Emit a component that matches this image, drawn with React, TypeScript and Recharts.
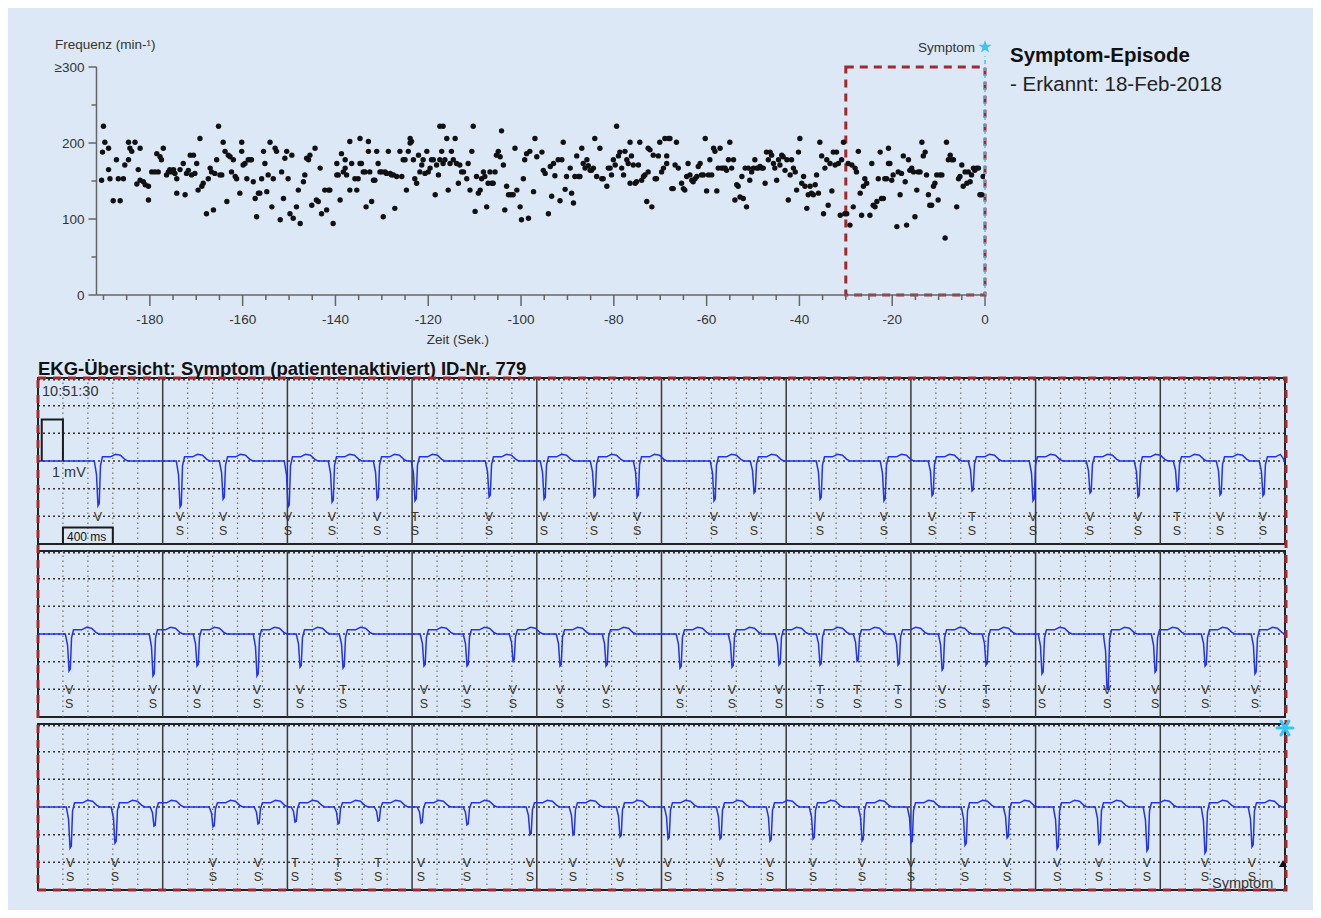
import React from 'react';
import {
  ScatterChart,
  Scatter,
  XAxis,
  YAxis,
  ReferenceArea,
  ReferenceLine,
  ComposedChart,
  Line,
} from 'recharts';

const BG = '#dce8f6';
const FONT = '"Liberation Sans", Arial, Helvetica, sans-serif';
const TXT = '#333333';
const RED = '#a3282c';
const CYAN = '#3cc3f0';
const TRACE = '#2233ee';

// ---------- Top chart: heart rate over time ----------
const rateTicks = [0, 50, 100, 150, 200, 250, 300];
const rateTickLabels: Record<number, string> = { 0: '0', 100: '100', 200: '200', 300: '≥300' };
const timeTicks = [
  -190, -185, -180, -175, -170, -165, -160, -155, -150, -145, -140, -135, -130, -125, -120,
  -115, -110, -105, -100, -95, -90, -85, -80, -75, -70, -65, -60, -55, -50, -45, -40, -35,
  -30, -25, -20, -15, -10, -5, 0,
];
const timeLabelTicks = [-180, -160, -140, -120, -100, -80, -60, -40, -20, 0];

// [seconds, beats per minute]
const heartRate: [number, number][] = [
  [-190.0, 222], [-189.7, 201], [-188.9, 193], [-190.2, 188], [-190.4, 151], [-188.9, 165],
  [-188.6, 153], [-187.9, 124], [-187.2, 178], [-186.4, 124], [-186.8, 153], [-185.7, 153],
  [-185.4, 171], [-184.6, 178], [-184.6, 201], [-184.3, 193], [-183.9, 189], [-183.2, 201],
  [-182.1, 193], [-182.5, 165], [-182.8, 146], [-182.1, 151], [-181.4, 149], [-181.0, 145],
  [-180.3, 143], [-180.3, 125], [-179.6, 162], [-178.9, 162], [-178.2, 162], [-178.5, 186],
  [-177.8, 182], [-177.5, 178], [-177.1, 193], [-176.4, 158], [-176.0, 162], [-175.7, 165],
  [-175.3, 162], [-174.9, 165], [-174.6, 160], [-174.2, 153], [-174.2, 134], [-173.5, 165],
  [-172.8, 173], [-172.4, 132], [-172.1, 160], [-171.7, 164], [-171.3, 184], [-170.6, 184],
  [-171.0, 158], [-170.3, 160], [-169.9, 173], [-169.2, 206], [-169.6, 138], [-168.8, 143],
  [-168.5, 147], [-167.8, 107], [-167.4, 153], [-167.0, 167], [-166.7, 162], [-166.3, 112],
  [-166.0, 160], [-165.6, 178], [-165.2, 222], [-164.9, 158], [-164.5, 158], [-164.2, 201],
  [-163.8, 189], [-163.4, 123], [-163.1, 184], [-162.7, 182], [-162.4, 162], [-162.0, 178],
  [-161.6, 156], [-161.3, 153], [-160.6, 134], [-160.2, 201], [-160.2, 189], [-159.9, 171],
  [-159.5, 173], [-159.1, 153], [-158.8, 178], [-158.4, 178], [-158.1, 178], [-157.7, 149],
  [-157.3, 127], [-157.0, 103], [-156.6, 134], [-156.3, 134], [-155.9, 153], [-155.5, 189],
  [-155.2, 173], [-154.8, 136], [-154.5, 158], [-154.1, 201], [-153.7, 116], [-153.4, 153],
  [-153.0, 193], [-152.7, 189], [-151.9, 99], [-151.6, 162], [-151.2, 127], [-150.9, 180],
  [-150.5, 189], [-150.2, 153], [-149.8, 107], [-149.4, 184], [-149.1, 101], [-148.4, 116],
  [-148.0, 138], [-147.6, 94], [-146.9, 149], [-146.6, 158], [-146.2, 180], [-145.8, 178],
  [-145.5, 184], [-145.1, 118], [-144.4, 193], [-144.1, 125], [-143.7, 123], [-143.3, 167],
  [-143.0, 107], [-142.3, 138], [-141.9, 112], [-141.5, 138], [-141.2, 138], [-140.5, 94],
  [-139.7, 173], [-139.7, 158], [-139.4, 158], [-139.0, 125], [-138.7, 186], [-138.3, 162],
  [-137.9, 178], [-137.9, 167], [-137.6, 158], [-136.9, 138], [-136.9, 202], [-136.5, 173],
  [-135.8, 153], [-135.4, 138], [-135.1, 153], [-134.7, 206], [-134.7, 173], [-134.4, 173],
  [-134.0, 162], [-133.6, 162], [-133.4, 116], [-132.9, 202], [-132.9, 189], [-132.6, 162],
  [-132.2, 123], [-131.8, 151], [-131.5, 151], [-131.1, 189], [-130.8, 173], [-130.4, 162],
  [-130.0, 162], [-129.7, 103], [-129.3, 162], [-129.0, 160], [-128.6, 189], [-128.2, 160],
  [-127.9, 158], [-127.5, 158], [-127.2, 114], [-126.8, 156], [-126.1, 189], [-125.7, 156],
  [-125.4, 178], [-125.0, 178], [-124.7, 138], [-124.3, 189], [-123.9, 200], [-123.9, 206],
  [-123.6, 202], [-123.2, 178], [-122.9, 153], [-122.5, 147], [-122.1, 184], [-121.8, 162],
  [-121.4, 171], [-121.1, 178], [-120.7, 160], [-120.3, 189], [-120.0, 162], [-119.6, 167],
  [-119.3, 178], [-118.9, 178], [-118.5, 132], [-118.2, 171], [-117.8, 158], [-117.5, 178],
  [-117.5, 222], [-117.1, 189], [-116.8, 222], [-116.8, 173], [-116.4, 178], [-116.0, 206],
  [-115.7, 138], [-115.3, 173], [-115.0, 189], [-114.6, 178], [-114.2, 206], [-113.9, 173],
  [-113.5, 147], [-113.2, 171], [-112.8, 162], [-112.4, 162], [-111.7, 153], [-111.4, 173],
  [-111.0, 138], [-110.6, 189], [-110.3, 222], [-109.9, 110], [-109.6, 156], [-109.2, 134],
  [-108.8, 138], [-108.5, 153], [-108.1, 162], [-107.8, 156], [-107.4, 116], [-107.1, 147],
  [-106.7, 162], [-106.3, 147], [-106.0, 147], [-105.6, 162], [-105.3, 184], [-104.9, 189],
  [-104.5, 182], [-104.2, 216], [-103.8, 171], [-103.5, 112], [-103.1, 143], [-102.7, 132],
  [-102.2, 132], [-101.7, 132], [-101.3, 193], [-100.9, 138], [-100.2, 116], [-99.9, 99],
  [-99.5, 153], [-99.2, 178], [-98.8, 186], [-98.4, 101], [-98.1, 189], [-97.3, 136],
  [-97.0, 206], [-96.6, 182],
  [-95.5, 188], [-95.2, 164], [-94.8, 160], [-94.1, 107], [-93.7, 169], [-93.4, 130],
  [-93.0, 173], [-92.7, 157], [-92.0, 178], [-91.6, 124], [-91.2, 178], [-90.9, 201],
  [-90.5, 139], [-90.2, 156], [-89.4, 167], [-89.1, 134], [-88.7, 121], [-88.4, 156],
  [-88.0, 183], [-87.6, 156], [-87.3, 156], [-86.9, 193], [-86.6, 173], [-86.2, 167],
  [-85.8, 178], [-85.5, 170], [-85.1, 164], [-84.8, 164], [-84.4, 167], [-84.1, 206],
  [-83.7, 156], [-83.0, 193], [-82.6, 153], [-82.3, 153], [-81.5, 143], [-81.2, 167],
  [-80.8, 167], [-80.5, 158], [-80.1, 178], [-79.7, 171], [-79.4, 222], [-79.0, 183],
  [-78.7, 188], [-78.3, 167], [-77.9, 158], [-77.6, 189], [-77.2, 178], [-76.9, 173],
  [-76.5, 201], [-76.5, 147], [-76.2, 183], [-75.8, 171], [-75.4, 147], [-75.1, 149],
  [-74.7, 171], [-74.4, 201], [-74.0, 151], [-73.6, 156], [-73.3, 158], [-72.9, 123],
  [-72.6, 162], [-72.6, 193], [-72.2, 191], [-71.8, 116], [-71.5, 184], [-71.1, 153],
  [-70.8, 153], [-70.4, 183], [-70.1, 201], [-69.7, 162], [-69.3, 167], [-69.0, 206],
  [-68.6, 183], [-68.6, 173], [-68.2, 206], [-67.9, 206], [-67.5, 140], [-67.2, 140],
  [-66.8, 171], [-66.5, 201], [-66.1, 167], [-65.4, 147], [-65.0, 140], [-64.7, 138],
  [-64.3, 156], [-64.0, 173], [-63.6, 158], [-63.2, 151], [-62.9, 149], [-62.5, 153],
  [-62.1, 156], [-61.8, 169], [-61.4, 173], [-61.1, 158], [-60.7, 158], [-60.3, 206],
  [-60.0, 137], [-59.6, 158], [-59.3, 178], [-58.9, 158], [-58.5, 193], [-58.2, 189],
  [-57.8, 137], [-57.5, 167], [-57.1, 193], [-56.8, 167], [-56.4, 167], [-56.0, 167],
  [-55.7, 164], [-55.3, 178], [-55.0, 201], [-54.6, 167], [-54.2, 178], [-53.9, 125],
  [-53.5, 145], [-53.2, 143], [-52.8, 129], [-52.4, 156], [-52.1, 127], [-51.7, 167],
  [-51.4, 116], [-51.0, 167], [-50.7, 151], [-50.3, 162], [-49.9, 167], [-49.6, 178],
  [-49.2, 167], [-48.9, 167], [-48.5, 169], [-48.1, 167], [-47.8, 167], [-47.4, 147],
  [-47.1, 188], [-46.7, 178], [-46.3, 188], [-46.0, 184], [-45.6, 173], [-45.3, 167],
  [-44.9, 151], [-44.5, 178], [-44.2, 171], [-43.8, 184], [-43.5, 182], [-43.1, 164],
  [-42.7, 178], [-42.4, 125], [-42.0, 158], [-41.7, 178], [-41.3, 167], [-40.9, 162],
  [-40.6, 138], [-40.2, 188], [-39.9, 206], [-39.5, 147], [-39.1, 156], [-38.8, 143],
  [-38.4, 114], [-38.1, 132], [-37.7, 143], [-37.4, 134], [-37.0, 132], [-36.6, 145],
  [-36.3, 158], [-35.9, 134], [-35.6, 201], [-35.2, 183], [-34.8, 107], [-34.5, 167],
  [-34.1, 178], [-33.8, 118], [-33.4, 173], [-33.0, 137], [-32.7, 188], [-32.3, 171],
  [-32.0, 188], [-31.6, 173], [-31.2, 105], [-30.9, 178], [-30.5, 201], [-30.2, 107],
  [-29.8, 107], [-29.5, 173], [-29.1, 92], [-28.7, 171], [-28.4, 116], [-28.0, 167],
  [-27.7, 162], [-27.3, 189], [-26.9, 134], [-26.6, 105], [-26.2, 143], [-25.9, 153],
  [-25.5, 147], [-24.8, 105], [-24.4, 173], [-24.1, 118], [-23.7, 116], [-23.3, 123],
  [-23.0, 153], [-22.6, 188], [-22.3, 127], [-21.9, 127], [-21.6, 153], [-21.2, 153],
  [-20.8, 193], [-20.8, 173], [-20.5, 173], [-20.1, 151], [-19.8, 158], [-19.0, 90],
  [-18.7, 162], [-18.3, 132], [-18.0, 160], [-17.6, 183], [-17.2, 149], [-16.9, 92],
  [-16.5, 178], [-16.2, 164], [-15.8, 167], [-15.4, 162], [-15.1, 103], [-14.7, 138],
  [-14.4, 162], [-14.0, 162], [-13.6, 201], [-13.3, 183], [-12.9, 188], [-12.6, 158],
  [-12.2, 132], [-11.9, 118], [-11.5, 118], [-11.1, 143], [-10.8, 147], [-10.4, 158],
  [-10.1, 125], [-9.7, 158], [-9.3, 158], [-8.6, 75], [-8.3, 201], [-7.9, 178],
  [-7.5, 184], [-7.2, 178], [-6.8, 178], [-6.1, 116], [-5.7, 153], [-5.4, 156],
  [-5.0, 171], [-4.7, 143], [-4.3, 162], [-3.9, 147], [-3.6, 162], [-3.2, 149],
  [-2.9, 158], [-2.5, 167], [-2.2, 164], [-1.8, 167], [-1.4, 167], [-1.1, 132],
  [-0.7, 132], [-0.4, 156],
];

// ---------- EKG strips (10 s each) ----------
// beat times (s), QRS depth (mV), annotation marks
const strip1Beats = [0.481, 1.139, 1.484, 2.005, 2.358, 2.719, 3.023, 3.617, 4.058, 4.459, 4.804, 5.421, 5.742, 6.271, 6.784, 7.169, 7.49, 7.979, 8.436, 8.821, 9.134, 9.479, 9.823];
const strip1Depths = [1.08, 1.11, 0.92, 1.11, 0.99, 0.92, 0.96, 0.87, 0.92, 0.87, 0.87, 0.96, 0.77, 0.92, 0.96, 0.84, 0.72, 0.96, 0.77, 0.87, 0.72, 0.82, 0.84];
const strip1Marks = ['V', 'VS', 'VS', 'VS', 'VS', 'VS', 'TS', 'VS', 'VS', 'VS', 'VS', 'VS', 'VS', 'VS', 'VS', 'VS', 'TS', 'VS', 'VS', 'VS', 'TS', 'VS', 'VS'];

const strip2Beats = [0.249, 0.922, 1.275, 1.756, 2.101, 2.446, 3.095, 3.44, 3.809, 4.186, 4.555, 5.148, 5.565, 5.942, 6.271, 6.568, 6.897, 7.25, 7.602, 8.051, 8.573, 8.958, 9.359, 9.759];
const strip2Depths = [0.89, 1.01, 0.77, 1.01, 0.8, 0.82, 0.77, 0.77, 0.65, 0.77, 0.77, 0.82, 0.8, 0.75, 0.75, 0.65, 0.75, 0.87, 0.75, 0.96, 1.35, 0.92, 0.77, 0.96];
const strip2Marks = ['VS', 'VS', 'VS', 'VS', 'VS', 'TS', 'VS', 'VS', 'VS', 'VS', 'VS', 'VS', 'VS', 'VS', 'TS', 'TS', 'TS', 'VS', 'TS', 'VS', 'VS', 'VS', 'VS', 'VS'];

const strip3Beats = [0.257, 0.617, 0.93, 1.403, 1.764, 2.061, 2.406, 2.727, 3.071, 3.44, 3.945, 4.29, 4.667, 5.052, 5.469, 5.87, 6.215, 6.608, 7.001, 7.434, 7.771, 8.172, 8.508, 8.893, 9.358, 9.735];
const strip3Depths = [0.99, 0.87, 0.46, 0.48, 0.41, 0.36, 0.41, 0.34, 0.39, 0.43, 0.67, 0.67, 0.72, 0.77, 0.77, 0.82, 0.77, 0.82, 0.87, 0.92, 0.75, 1.01, 0.89, 1.06, 1.11, 0.96];
const strip3Marks = ['VS', 'VS', '', 'VS', 'VS', 'TS', 'TS', 'TS', 'VS', 'VS', 'VS', 'VS', 'VS', 'VS', 'VS', 'VS', 'VS', 'VS', 'VS', 'VS', 'VS', 'VS', 'VS', 'VS', 'VS', 'VS'];

// beat waveform template: time offset (s), fraction of QRS depth, T-wave level (mV)
const shapeT = [-0.03, -0.012, 0, 0.01, 0.02, 0.036, 0.1, 0.14, 0.18, 0.215, 0.24];
const shapeDepth = [0, 0.3, 1, 0.95, 0.1, 0, 0, 0, 0, 0, 0];
const shapeWave = [0, 0, 0, 0, 0, 0.1, 0.1, 0.16, 0.14, 0.04, 0];

// 1 mV calibration pulse and 400 ms marker (strip 1)
const calPulse = [
  { t: 0.03, v: 0 }, { t: 0.03, v: 1 }, { t: 0.2, v: 1 }, { t: 0.2, v: 0 },
];
const msMarker = [
  { t: 0.2, v: -2 }, { t: 0.2, v: -1.6 }, { t: 0.6, v: -1.6 }, { t: 0.6, v: -2 },
];

const gridT = Array.from({ length: 49 }, (_, i) => (i + 1) * 0.2).filter(
  (t) => Math.abs(t - Math.round(t)) > 0.01
);
const gridV = [-4 / 3, -2 / 3, 0, 2 / 3, 4 / 3, 1.96];
const sectionT = [1, 2, 3, 4, 5, 6, 7, 8, 9];
const LABEL_LEVEL = -4 / 3;

function buildTrace(times: number[], depths: number[]) {
  const pts: { t: number; v: number }[] = [{ t: 0, v: 0 }];
  times.forEach((bt, i) => {
    const limit = i + 1 < times.length ? times[i + 1] + shapeT[0] : 10;
    shapeT.forEach((dt, k) => {
      const t = bt + dt;
      if (t < 0 || t > 10 || t >= limit) return;
      if (t < pts[pts.length - 1].t) return;
      pts.push({ t, v: -depths[i] * shapeDepth[k] + shapeWave[k] });
    });
  });
  pts.push({ t: 10, v: 0 });
  return pts;
}

const LabelMark = (p: any) => {
  const { cx, cy, payload } = p;
  const m: string = payload.mark || '';
  return (
    <g>
      {m[0] ? (
        <text x={cx} y={cy + 4.5} textAnchor="middle" fontSize={12.5} fontFamily={FONT} fill="#3d3322">
          {m[0]}
        </text>
      ) : null}
      {m[1] ? (
        <text x={cx} y={cy + 19} textAnchor="middle" fontSize={12.5} fontFamily={FONT} fill="#3d3322">
          {m[1]}
        </text>
      ) : null}
    </g>
  );
};

function EkgStrip(props: {
  times: number[];
  depths: number[];
  marks: string[];
  top: number;
  calibration?: boolean;
}) {
  const { times, depths, marks, top, calibration } = props;
  const trace = buildTrace(times, depths);
  const labels = times.map((t, i) => ({ t, v: LABEL_LEVEL, mark: marks[i] }));
  return (
    <div style={{ position: 'absolute', left: 28, top }}>
      <ComposedChart
        width={1251}
        height={170}
        margin={{ top: 2, right: 2, bottom: 2, left: 2 }}
        data={trace}
      >
        <XAxis type="number" dataKey="t" domain={[0, 10]} hide allowDataOverflow />
        <YAxis type="number" dataKey="v" domain={[-2, 2]} hide allowDataOverflow />
        {gridT.map((x) => (
          <ReferenceLine
            key={'gx' + x}
            x={x}
            stroke="#6f6f6f"
            strokeWidth={1.2}
            strokeDasharray="1.5 3.5"
          />
        ))}
        {gridV.map((y) => (
          <ReferenceLine
            key={'gy' + y}
            y={y}
            stroke="#333"
            strokeWidth={1.5}
            strokeDasharray="2 3"
          />
        ))}
        {sectionT.map((x) => (
          <ReferenceLine key={'sx' + x} x={x} stroke="#3a3a3a" strokeWidth={1.5} />
        ))}
        <ReferenceArea
          x1={0}
          x2={10}
          y1={-2}
          y2={2}
          fill="none"
          stroke="#222"
          strokeWidth={2}
          ifOverflow="visible"
        />
        <Line
          dataKey="v"
          stroke={TRACE}
          strokeWidth={1.5}
          dot={false}
          type="linear"
          isAnimationActive={false}
        />
        {calibration ? (
          <Line
            data={calPulse}
            dataKey="v"
            stroke="#1a1a1a"
            strokeWidth={2}
            dot={false}
            type="linear"
            isAnimationActive={false}
          />
        ) : null}
        {calibration ? (
          <Line
            data={msMarker}
            dataKey="v"
            stroke="#1a1a1a"
            strokeWidth={2}
            dot={false}
            type="linear"
            isAnimationActive={false}
          />
        ) : null}
        <Scatter data={labels} dataKey="v" shape={LabelMark} isAnimationActive={false} />
      </ComposedChart>
    </div>
  );
}

const PLOT_LEFT = 88.5;
const PLOT_BOTTOM = 287;

const YTick = (p: any) => {
  const v = p.payload.value as number;
  const major = v % 100 === 0;
  return (
    <g>
      <line
        x1={PLOT_LEFT - (major ? 8 : 5)}
        x2={PLOT_LEFT}
        y1={p.y}
        y2={p.y}
        stroke="#666"
        strokeWidth={1.5}
      />
      {major ? (
        <text x={PLOT_LEFT - 12} y={p.y + 4.5} textAnchor="end" fontSize={13.5} fontFamily={FONT} fill={TXT}>
          {rateTickLabels[v]}
        </text>
      ) : null}
    </g>
  );
};

const XTick = (p: any) => {
  const v = p.payload.value as number;
  const major = timeLabelTicks.includes(v);
  return (
    <g>
      <line
        x1={p.x}
        x2={p.x}
        y1={PLOT_BOTTOM}
        y2={PLOT_BOTTOM + (major ? 11 : 5)}
        stroke="#666"
        strokeWidth={1.5}
      />
      {major ? (
        <text x={p.x} y={PLOT_BOTTOM + 29} textAnchor="middle" fontSize={13.5} fontFamily={FONT} fill={TXT}>
          {String(v)}
        </text>
      ) : null}
    </g>
  );
};

const Dot = (p: any) => <circle cx={p.cx} cy={p.cy} r={2.7} fill="#111" />;

export default function App() {
  const rateData = heartRate.map(([t, bpm]) => ({ t, bpm }));
  return (
    <div
      style={{
        position: 'relative',
        width: 1313,
        height: 902,
        background: BG,
        fontFamily: FONT,
        overflow: 'hidden',
      }}
    >
      <div style={{ position: 'absolute', left: 0, top: 0 }}>
        <ScatterChart
          width={1000}
          height={350}
          margin={{ top: 59, right: 23, bottom: 33, left: 38.5 }}
        >
          <XAxis
            type="number"
            dataKey="t"
            domain={[-191.5, 0]}
            ticks={timeTicks}
            interval={0}
            tick={XTick}
            tickLine={false}
            axisLine={{ stroke: '#666', strokeWidth: 1.5 }}
            height={30}
            allowDataOverflow
          />
          <YAxis
            type="number"
            dataKey="bpm"
            domain={[0, 300]}
            ticks={rateTicks}
            interval={0}
            tick={YTick}
            tickLine={false}
            axisLine={{ stroke: '#666', strokeWidth: 1.5 }}
            width={50}
            allowDataOverflow
          />
          <ReferenceLine
            segment={[
              { x: 0, y: 0 },
              { x: 0, y: 314 },
            ]}
            stroke={CYAN}
            strokeWidth={1.5}
            strokeDasharray="4 3"
            ifOverflow="visible"
          />
          <ReferenceArea
            x1={-30}
            x2={0}
            y1={0}
            y2={300}
            fill="none"
            stroke={RED}
            strokeWidth={3}
            strokeDasharray="8 6"
            ifOverflow="visible"
          />
          <Scatter data={rateData} shape={Dot} isAnimationActive={false} />
        </ScatterChart>
      </div>

      <EkgStrip times={strip1Beats} depths={strip1Depths} marks={strip1Marks} top={368} calibration />
      <EkgStrip times={strip2Beats} depths={strip2Depths} marks={strip2Marks} top={541} />
      <EkgStrip times={strip3Beats} depths={strip3Depths} marks={strip3Marks} top={714} />

      <svg
        width={1313}
        height={902}
        style={{ position: 'absolute', left: 0, top: 0, pointerEvents: 'none' }}
      >
        <text x={47} y={41} fontSize={13.5} fontFamily={FONT} fill={TXT}>
          Frequenz (min-¹)
        </text>
        <text x={450} y={336} textAnchor="middle" fontSize={13.5} fontFamily={FONT} fill={TXT}>
          Zeit (Sek.)
        </text>
        <text x={967} y={44} textAnchor="end" fontSize={13.5} fontFamily={FONT} fill={TXT}>
          Symptom
        </text>
        <polygon
          points="977,32 978.6,36.8 983.7,36.8 979.6,39.8 981.1,44.6 977,41.7 972.9,44.6 974.4,39.8 970.3,36.8 975.4,36.8"
          fill={CYAN}
        />
        <text x={1002} y={54} fontSize={20.5} fontWeight="bold" fontFamily={FONT} fill="#111">
          Symptom-Episode
        </text>
        <text x={1002} y={83} fontSize={20.5} fontFamily={FONT} fill="#222">
          - Erkannt: 18-Feb-2018
        </text>

        <text x={30} y={367} fontSize={18.5} fontWeight="bold" fontFamily={FONT} fill="#111">
          EKG-Übersicht: Symptom (patientenaktiviert) ID-Nr. 779
        </text>
        <text x={34} y={388} fontSize={14.5} fontFamily={FONT} fill={TXT}>
          10:51:30
        </text>
        <text x={44} y={469} fontSize={14.5} fontFamily={FONT} fill={TXT}>
          1 mV
        </text>
        <text x={59} y={533} fontSize={12} fontFamily={FONT} fill="#111">
          400 ms
        </text>

        <rect
          x={30}
          y={370}
          width={1248}
          height={512}
          fill="none"
          stroke={RED}
          strokeWidth={3}
          strokeDasharray="8 7"
        />

        <g stroke={CYAN} strokeWidth={3} strokeLinecap="round">
          <line x1={1269} y1={720} x2={1285} y2={720} />
          <line x1={1273} y1={713} x2={1281} y2={727} />
          <line x1={1281} y1={713} x2={1273} y2={727} />
        </g>
        <polygon points="1271,859 1279,859 1275,852" fill="#111" />
        <text x={1204} y={880} fontSize={14.5} fontFamily={FONT} fill={TXT}>
          Symptom
        </text>
      </svg>
    </div>
  );
}
